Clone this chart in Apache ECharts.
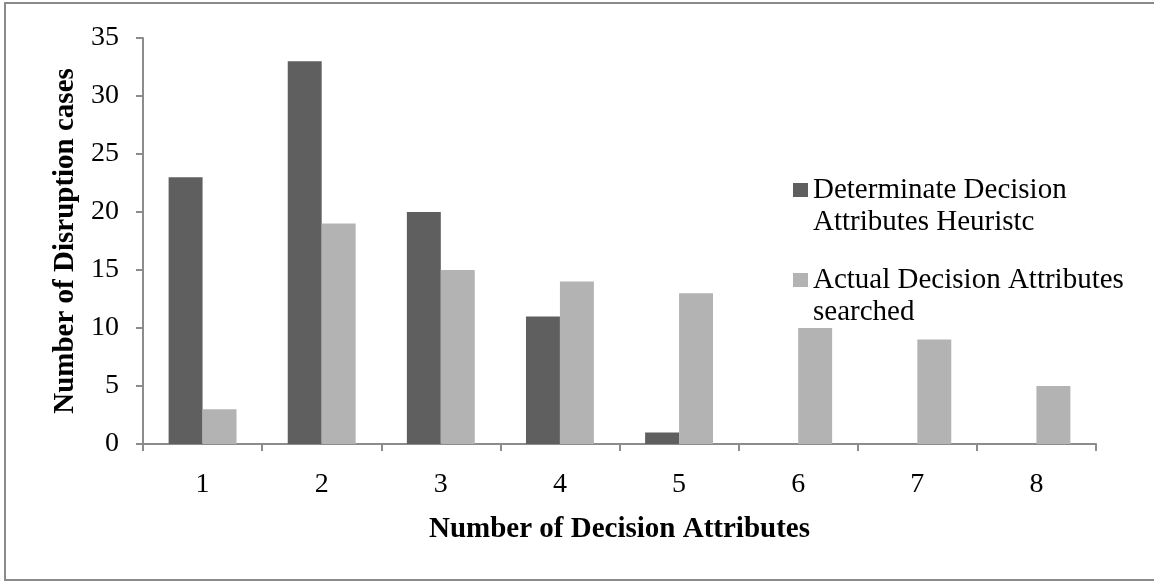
<!DOCTYPE html>
<html>
<head>
<meta charset="utf-8">
<script src="https://cdn.jsdelivr.net/npm/echarts@6/dist/echarts.min.js"></script>
<style>
  html, body { margin: 0; padding: 0; background: #fff; }
  #chart { width: 1154px; height: 582px; }
</style>
</head>
<body>
<div id="chart"></div>
<script>
// data
var categories = ['1', '2', '3', '4', '5', '6', '7', '8']
var heuristic = [23, 33, 20, 11, 1, 0, 0, 0]
var actual = [3, 19, 15, 14, 13, 10, 9, 5]
var seriesNames = ['Determinate Decision Attributes Heuristc', 'Actual Decision Attributes searched']
var legendLines = {
    'Determinate Decision Attributes Heuristc': 'Determinate Decision\nAttributes Heuristc',
    'Actual Decision Attributes searched': 'Actual Decision Attributes\nsearched'
}

var serif = '"Liberation Serif", "Times New Roman", serif'
var axisGrey = '#8c8c8c'

var chart = echarts.init(document.getElementById('chart'))
var option = {
    animation: false,
    textStyle: { fontFamily: serif },
    graphic: [{
        type: 'rect',
        shape: { x: 5, y: 3, width: 1160, height: 577 },
        style: { fill: 'none', stroke: '#8a8a8a', lineWidth: 2 },
        silent: true
    }],
    grid: { left: 143, right: 58, top: 38, bottom: 138 },
    legend: {
        orient: 'vertical',
        left: 793,
        top: 142,
        padding: 0,
        itemGap: -6,
        itemWidth: 15,
        itemHeight: 14,
        icon: 'rect',
        data: seriesNames,
        // leading blank line keeps the square level with the first text line
        formatter: function (name) { return '\n' + legendLines[name] },
        textStyle: { fontFamily: serif, fontSize: 29, color: '#000', lineHeight: 32 }
    },
    xAxis: {
        type: 'category',
        data: categories,
        name: 'Number of Decision Attributes',
        nameLocation: 'middle',
        nameGap: 71,
        nameTextStyle: { fontFamily: serif, fontSize: 29, fontWeight: 'bold', color: '#000' },
        axisLine: { lineStyle: { color: axisGrey, width: 2 } },
        axisTick: { show: true, length: 7, lineStyle: { color: axisGrey, width: 2 } },
        axisLabel: { fontSize: 28, color: '#000', margin: 27, fontFamily: serif }
    },
    yAxis: {
        type: 'value',
        min: 0,
        max: 35,
        interval: 5,
        name: 'Number of Disruption cases',
        nameLocation: 'middle',
        nameGap: 63,
        nameTextStyle: { fontFamily: serif, fontSize: 29, fontWeight: 'bold', color: '#000' },
        axisLine: { show: true, lineStyle: { color: axisGrey, width: 2 } },
        axisTick: { show: true, length: 7, lineStyle: { color: axisGrey, width: 2 } },
        splitLine: { show: false },
        axisLabel: { fontSize: 28, color: '#000', margin: 24, fontFamily: serif }
    },
    series: [
        {
            name: seriesNames[0],
            type: 'bar',
            data: heuristic,
            barGap: '0%',
            barCategoryGap: '43%',
            itemStyle: { color: '#5f5f5f' }
        },
        {
            name: seriesNames[1],
            type: 'bar',
            data: actual,
            barGap: '0%',
            barCategoryGap: '43%',
            itemStyle: { color: '#b3b3b3' }
        }
    ]
}
chart.setOption(option)
</script>
</body>
</html>
